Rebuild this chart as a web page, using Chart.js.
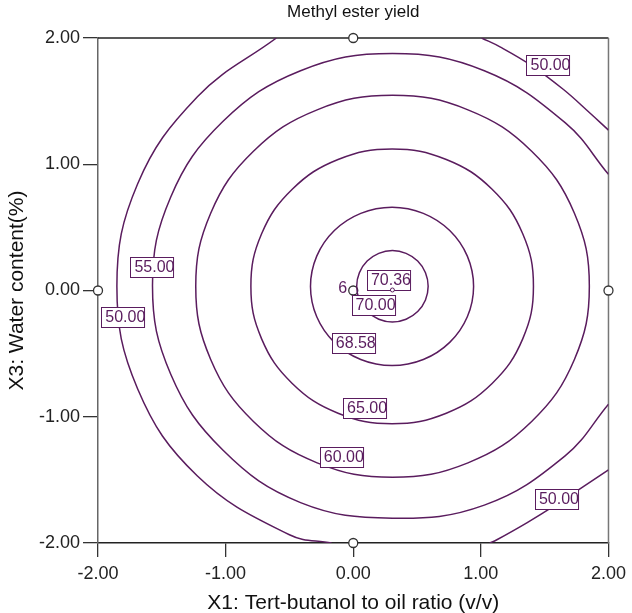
<!DOCTYPE html>
<html><head><meta charset="utf-8">
<script src="https://cdn.jsdelivr.net/npm/chart.js@4.4.0/dist/chart.umd.min.js"></script>
<style>html,body{margin:0;padding:0;background:#fff}#wrap{width:632px;height:613px;position:relative}</style>
</head><body><div id="wrap"><canvas id="c"></canvas></div>
<script>
const chartTitle = 'Methyl ester yield';
const xTitle = 'X1: Tert-butanol to oil ratio (v/v)';
const yTitle = 'X3: Water content(%)';
const tickValues = [-2, -1, 0, 1, 2];
const tickLabels = ['-2.00', '-1.00', '0.00', '1.00', '2.00'];

// contour lines, [x1, x3]; the first four are closed rings
const contour70 = [[0.587,0.033],[0.566,0.141],[0.505,0.233],[0.414,0.294],[0.307,0.316],[0.200,0.294],[0.109,0.233],[0.048,0.141],[0.027,0.033],[0.048,-0.075],[0.109,-0.167],[0.200,-0.228],[0.307,-0.250],[0.414,-0.228],[0.505,-0.167],[0.566,-0.075]];
const contour6858 = [[0.943,0.032],[0.894,0.272],[0.756,0.475],[0.549,0.611],[0.304,0.659],[0.059,0.611],[-0.148,0.475],[-0.286,0.272],[-0.335,0.032],[-0.286,-0.208],[-0.148,-0.411],[0.059,-0.547],[0.304,-0.595],[0.549,-0.547],[0.756,-0.411],[0.894,-0.208]];
const contour65 = [[1.412,0.033],[1.328,0.449],[1.088,0.802],[0.729,1.038],[0.305,1.121],[-0.119,1.038],[-0.478,0.802],[-0.718,0.449],[-0.802,0.033],[-0.718,-0.383],[-0.478,-0.736],[-0.119,-0.972],[0.305,-1.055],[0.729,-0.972],[1.088,-0.736],[1.328,-0.383]];
const contour60 = [[1.850,0.033],[1.733,0.612],[1.398,1.103],[0.899,1.431],[0.308,1.546],[-0.283,1.431],[-0.782,1.103],[-1.117,0.612],[-1.234,0.033],[-1.117,-0.546],[-0.782,-1.037],[-0.283,-1.365],[0.308,-1.480],[0.899,-1.365],[1.398,-1.037],[1.733,-0.546]];
const contour55 = [[2.0,0.92],[1.66,1.33],[1.027,1.741],[0.307,1.877],[-0.413,1.741],[-1.022,1.338],[-1.430,0.741],[-1.573,0.037],[-1.430,-0.663],[-1.022,-1.264],[-0.413,-1.680],[0.307,-1.803],[1.027,-1.700],[1.66,-1.31],[2.0,-0.90]];
const contour50Left = [[-0.602,2.0],[-1.221,1.535],[-1.689,0.846],[-1.852,0.033],[-1.689,-0.780],[-1.221,-1.469],[-0.50,-1.935],[-0.17,-2.0]];
const contour50UpperRight = [[1.006,2.0],[1.15,1.93],[1.40,1.78],[1.65,1.59],[1.85,1.41],[2.0,1.27]];
const contour50LowerRight = [[2.0,-1.42],[1.80,-1.555],[1.60,-1.69],[1.36,-1.84],[1.122,-1.976],[1.07,-2.0]];

// contour labels
const labelTexts = ['50.00','55.00','50.00','70.36','70.00','68.58','65.00','60.00','50.00'];
const labelX = [1.530,-1.573,-1.802,0.280,0.159,0.004,0.093,-0.089,1.596];
const labelY = [1.786,0.190,-0.210,0.087,-0.111,-0.416,-0.931,-1.315,-1.648];

// design points
const designX = [0, 0, -2, 2, 0];
const designY = [2, -2, 0, 0, 0];
const centerRunsText = '6';
const centerRunsPos = [-0.082, 0.016];
const optimumPoint = [0.307, 0.004];

const purple = '#5a1c5e';
const FONT = 'Liberation Sans, Arial, Helvetica, sans-serif';
const toPts = a => a.map(p => ({x: p[0], y: p[1]}));

const closedSets = [contour70, contour6858, contour65, contour60];
const openSets = [contour55, contour50Left, contour50UpperRight, contour50LowerRight];
const lineStyle = { showLine: true, tension: 0.4, borderColor: purple, borderWidth: 1.5, pointRadius: 0, pointHoverRadius: 0, fill: false };
const datasets = [];
closedSets.forEach(c => datasets.push(Object.assign({ data: toPts(c), closedRing: true, contour: true }, lineStyle)));
openSets.forEach(c => datasets.push(Object.assign({ data: toPts(c), contour: true }, lineStyle)));
datasets.push({
  data: designX.map((x, i) => ({x: x, y: designY[i]})), showLine: false,
  pointRadius: 4.5, pointHoverRadius: 4.5, pointBackgroundColor: '#fff', pointBorderColor: '#333', pointBorderWidth: 1.3, clip: false
});

const ringLoop = {
  id: 'ringLoop',
  afterDatasetsUpdate(chart) {
    chart.data.datasets.forEach((ds, i) => {
      if (!ds.contour) return;
      const line = chart.getDatasetMeta(i).dataset;
      if (!line) return;
      if (ds.closedRing) { line._loop = true; line._fullLoop = true; }
      line._segments = undefined; line._path = undefined; line._pointsUpdated = false;
    });
  }
};

const annotate = {
  id: 'annotate',
  beforeDatasetsDraw(chart) {
    const {ctx, chartArea: a} = chart;
    ctx.save();
    ctx.lineWidth = 1.5;
    ctx.strokeStyle = '#222';
    ctx.beginPath(); ctx.moveTo(a.left, a.top); ctx.lineTo(a.right, a.top); ctx.stroke();
    ctx.strokeStyle = '#777';
    ctx.beginPath(); ctx.moveTo(a.right, a.top); ctx.lineTo(a.right, a.bottom); ctx.stroke();
    ctx.restore();
  },
  afterDatasetsDraw(chart) {
    const {ctx} = chart;
    const xs = chart.scales.x, ys = chart.scales.y;
    ctx.save();
    ctx.font = '16px ' + FONT;
    ctx.textBaseline = 'middle';
    ctx.textAlign = 'center';
    labelTexts.forEach((t, i) => {
      const cx = xs.getPixelForValue(labelX[i]);
      const cy = ys.getPixelForValue(labelY[i]);
      const w = ctx.measureText(t).width;
      const bx = Math.round(cx - w / 2 - 2) + 0.5, by = Math.round(cy - 10) + 0.5;
      ctx.fillStyle = '#fff';
      ctx.fillRect(bx, by, w + 3, 20);
      ctx.strokeStyle = purple; ctx.lineWidth = 1;
      ctx.strokeRect(bx, by, w + 3, 20);
      ctx.fillStyle = purple;
      ctx.fillText(t, cx + 2, cy + 1);
    });
    const ox = xs.getPixelForValue(optimumPoint[0]), oy = ys.getPixelForValue(optimumPoint[1]);
    ctx.beginPath(); ctx.arc(ox, oy, 2, 0, Math.PI * 2);
    ctx.fillStyle = '#fff'; ctx.fill();
    ctx.strokeStyle = purple; ctx.lineWidth = 1; ctx.stroke();
    ctx.fillStyle = purple;
    ctx.fillText(centerRunsText, xs.getPixelForValue(centerRunsPos[0]), ys.getPixelForValue(centerRunsPos[1]));
    ctx.restore();
  },
  afterDraw(chart) {
    const {ctx, chartArea: a} = chart;
    ctx.save();
    ctx.font = '17px ' + FONT;
    ctx.fillStyle = '#111';
    ctx.textAlign = 'center';
    ctx.textBaseline = 'middle';
    ctx.fillText(chartTitle, (a.left + a.right) / 2, 12);
    ctx.restore();
  }
};

const axisCommon = {
  type: 'linear', min: -2, max: 2,
  afterBuildTicks: s => { s.ticks = tickValues.map(v => ({value: v})); },
  ticks: { callback: (v, i) => tickLabels[i], color: '#222', font: {family: FONT, size: 18} },
  grid: { drawOnChartArea: false, drawTicks: true, color: '#333', lineWidth: 1.3 },
};

new Chart(document.getElementById('c'), {
  type: 'scatter',
  data: { datasets: datasets },
  options: {
    responsive: true, maintainAspectRatio: false, animation: false,
    layout: { padding: { top: 38, right: 19, left: 0, bottom: 0 } },
    elements: { line: { capBezierPoints: false } },
    plugins: { legend: { display: false }, tooltip: { enabled: false }, title: { display: false } },
    scales: {
      x: Object.assign({}, axisCommon, {
        position: 'bottom',
        afterFit: s => { s.height = 70; },
        ticks: Object.assign({}, axisCommon.ticks, { padding: 6, maxRotation: 0 }),
        grid: Object.assign({}, axisCommon.grid, { tickLength: 14 }),
        border: { display: true, color: '#222', width: 1.5 },
        title: { display: true, text: xTitle, color: '#111', font: {family: FONT, size: 21, lineHeight: 0.9}, padding: {top: 0, bottom: 0} }
      }),
      y: Object.assign({}, axisCommon, {
        position: 'left',
        afterFit: s => { s.width = 98; },
        ticks: Object.assign({}, axisCommon.ticks, { padding: 3 }),
        grid: Object.assign({}, axisCommon.grid, { tickLength: 15 }),
        border: { display: true, color: '#666', width: 1.5 },
        title: { display: true, text: yTitle, color: '#111', font: {family: FONT, size: 21, lineHeight: 1}, padding: {top: 7, bottom: 0} }
      })
    }
  },
  plugins: [ringLoop, annotate]
});
</script>
</body></html>
